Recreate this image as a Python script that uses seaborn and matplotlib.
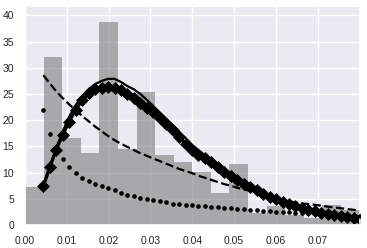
import numpy as np
import pandas as pd
import matplotlib
matplotlib.use("Agg")
import matplotlib.pyplot as plt
import seaborn as sns

# ---- data ----
bin_heights = [7.3, 32.1, 16.6, 13.8, 38.8, 14.6, 25.4, 13.4, 12.1, 10.2,
               6.1, 11.7, 2.3, 3.7, 1.9, 1.3, 3.8, 2.9]
bin_lo, bin_hi, n_bins = 0.0, 0.08, 18

x_grid = [0.00440, 0.00595, 0.00749, 0.00904, 0.01058, 0.01213, 0.01367, 0.01522,
          0.01676, 0.01831, 0.01985, 0.02140, 0.02294, 0.02449, 0.02603, 0.02758,
          0.02912, 0.03067, 0.03221, 0.03376, 0.03530, 0.03685, 0.03839, 0.03994,
          0.04148, 0.04303, 0.04457, 0.04612, 0.04766, 0.04921, 0.05075, 0.05230,
          0.05384, 0.05539, 0.05693, 0.05848, 0.06002, 0.06157, 0.06311, 0.06466,
          0.06620, 0.06775, 0.06929, 0.07084, 0.07238, 0.07393, 0.07547, 0.07702,
          0.07856, 0.08011]

solid_curve = [7.8, 11.3, 14.8, 17.9, 20.7, 22.9, 24.6, 25.9, 26.9, 27.5,
               27.9, 27.9, 27.3, 26.5, 25.9, 25.0, 23.9, 22.7, 21.5, 20.3,
               19.1, 17.8, 16.6, 15.3, 14.3, 13.3, 12.3, 11.3, 10.4, 9.6,
               8.8, 8.1, 7.4, 6.8, 6.2, 5.6, 5.1, 4.6, 4.2, 3.8,
               3.4, 3.1, 2.8, 2.5, 2.2, 2.0, 1.8, 1.6, 1.45, 1.3]

diamond_curve = [7.4, 11.0, 14.4, 17.2, 19.7, 22.0, 23.8, 25.1, 25.9, 26.2,
                 26.3, 26.1, 25.7, 25.0, 24.3, 23.3, 22.4, 21.5, 20.4, 19.3,
                 18.2, 16.8, 15.5, 14.3, 13.4, 12.8, 12.0, 11.1, 10.2, 9.4,
                 8.6, 7.9, 7.3, 6.7, 6.0, 5.4, 4.9, 4.4, 4.0, 3.6,
                 3.2, 2.9, 2.6, 2.3, 2.1, 1.85, 1.65, 1.5, 1.35, 1.2]

dashed_curve = [28.6, 27.0, 25.5, 24.2, 23.0, 21.9, 20.8, 19.8, 18.8, 17.9,
                17.0, 16.2, 15.5, 14.9, 14.3, 13.7, 13.2, 12.7, 12.2, 11.7,
                11.2, 10.7, 10.3, 9.9, 9.4, 9.0, 8.6, 8.2, 7.8, 7.5,
                7.1, 6.8, 6.5, 6.1, 5.7, 5.35, 5.0, 4.75, 4.5, 4.3,
                4.1, 4.0, 3.85, 3.7, 3.5, 3.35, 3.2, 3.05, 2.9, 2.75]

dotted_curve = [22.0, 17.4, 14.6, 12.6, 11.1, 9.9, 9.0, 8.4, 7.9, 7.4,
                7.0, 6.6, 6.2, 5.8, 5.5, 5.2, 4.95, 4.75, 4.5, 4.3,
                4.1, 3.95, 3.85, 3.75, 3.65, 3.55, 3.45, 3.35, 3.25, 3.15,
                3.05, 3.0, 2.9, 2.8, 2.75, 2.65, 2.55, 2.5, 2.4, 2.35,
                2.3, 2.2, 2.15, 2.1, 2.0, 1.95, 1.9, 1.85, 1.8, 1.75]

x_ticks = [0.00, 0.01, 0.02, 0.03, 0.04, 0.05, 0.06, 0.07]
x_tick_labels = ["0.00", "0.01", "0.02", "0.03", "0.04", "0.05", "0.06", "0.07"]
y_ticks = [0, 5, 10, 15, 20, 25, 30, 35, 40]

# ---- plotting ----
sns.set_theme(style="darkgrid")
plt.rcParams["font.family"] = ["Liberation Sans", "DejaVu Sans"]

bin_w = (bin_hi - bin_lo) / n_bins
centers = [bin_lo + bin_w * (i + 0.5) for i in range(n_bins)]
hist_df = pd.DataFrame({"x": centers, "w": bin_heights})
curves = pd.DataFrame({"x": x_grid, "solid": solid_curve, "diamond": diamond_curve,
                       "dashed": dashed_curve, "dotted": dotted_curve})

fig = plt.figure(figsize=(3.67, 2.48), dpi=100)
ax = fig.add_axes([25 / 367, 1 - 225 / 248, 335 / 367, 219 / 248])

sns.histplot(data=hist_df, x="x", weights="w", bins=n_bins,
             binrange=(bin_lo, bin_hi), stat="count",
             color="gray", alpha=0.62, linewidth=0, ax=ax)

sns.lineplot(data=curves, x="x", y="solid", color="black", lw=1.6, ax=ax)
sns.lineplot(data=curves, x="x", y="diamond", color="black", lw=2.2, marker="D",
             markersize=6, markeredgecolor="black", markeredgewidth=0.5, ax=ax)
sns.lineplot(data=curves, x="x", y="dashed", color="black", lw=1.6,
             linestyle="--", ax=ax)
sns.scatterplot(data=curves, x="x", y="dotted", color="black", s=11,
                linewidth=0, ax=ax, zorder=3)

ax.set_xlim(0, 0.0801)
ax.set_ylim(0, 41.8)
ax.set_xticks(x_ticks)
ax.set_xticklabels(x_tick_labels)
ax.set_yticks(y_ticks)
ax.tick_params(labelsize=7.5, pad=2, colors="#262626")
ax.set_xlabel("")
ax.set_ylabel("")

fig.savefig("out.png", dpi=100)
